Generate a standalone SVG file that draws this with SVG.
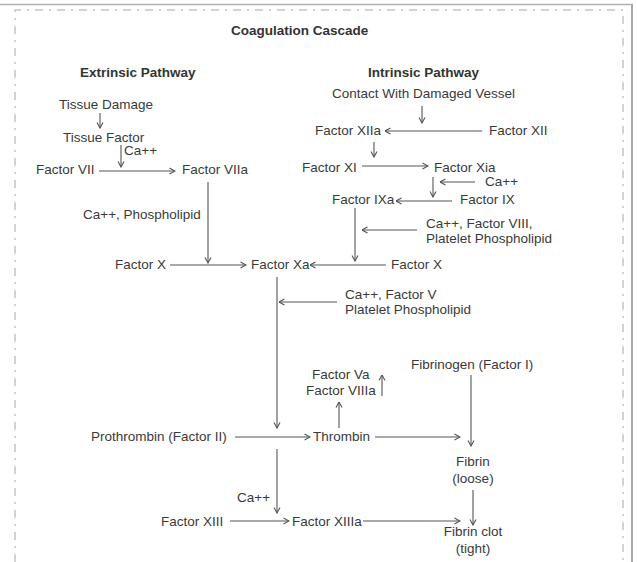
<svg xmlns="http://www.w3.org/2000/svg" width="637" height="562" viewBox="0 0 637 562">
<style>
text{font-family:"Liberation Sans",Arial,sans-serif;font-size:13.5px;fill:#3a3a3a}
.h{font-weight:bold;fill:#333}
.c{text-anchor:middle}
.ln{stroke:#555;stroke-width:1.1;fill:none;marker-end:url(#ah)}
</style>
<defs>
<marker id="ah" viewBox="0 0 8 8" refX="7.5" refY="4" markerWidth="8" markerHeight="8" markerUnits="userSpaceOnUse" orient="auto">
<path d="M2,1 L7.5,4 L2,7" fill="none" stroke="#555" stroke-width="1.1"/>
</marker>
</defs>
<rect width="637" height="562" fill="#fff"/>
<g id="frame">
<line x1="0" y1="4.5" x2="633" y2="4.5" stroke="#b0b0b0" stroke-width="1.5"/>
<line x1="632" y1="4" x2="632" y2="562" stroke="#a8a8a8" stroke-width="2"/>
<path d="M15,562 L15,10 L623,10 L623,562" fill="none" stroke="#c4c4c4" stroke-width="1.5" stroke-dasharray="8 6 2 6"/>
</g>
<g id="titles">
<text class="h" x="231" y="35">Coagulation Cascade</text>
<text class="h" x="80" y="77">Extrinsic Pathway</text>
<text class="h" x="368" y="77">Intrinsic Pathway</text>
</g>
<g id="n-tissue-damage"><text x="59" y="109">Tissue Damage</text></g>
<g id="n-tissue-factor"><text x="63" y="142">Tissue Factor</text></g>
<g id="l-ca1"><text x="124" y="155">Ca++</text></g>
<g id="n-f7"><text x="36" y="174">Factor VII</text></g>
<g id="n-f7a"><text x="182" y="174">Factor VIIa</text></g>
<g id="l-caphos"><text x="83" y="219">Ca++, Phospholipid</text></g>
<g id="n-f10-left"><text x="115" y="269">Factor X</text></g>
<g id="n-f10a"><text x="251" y="269">Factor Xa</text></g>
<g id="n-contact"><text x="332" y="98">Contact With Damaged Vessel</text></g>
<g id="n-f12a"><text x="315" y="135">Factor XIIa</text></g>
<g id="n-f12"><text x="489" y="135">Factor XII</text></g>
<g id="n-f11"><text x="302" y="172">Factor XI</text></g>
<g id="n-f11a"><text x="434" y="172">Factor Xia</text></g>
<g id="l-ca2"><text x="485" y="186">Ca++</text></g>
<g id="n-f9a"><text x="332" y="204">Factor IXa</text></g>
<g id="n-f9"><text x="460" y="204">Factor IX</text></g>
<g id="l-f8"><text x="426" y="228">Ca++, Factor VIII,</text><text x="426" y="243">Platelet Phospholipid</text></g>
<g id="n-f10-right"><text x="391" y="269">Factor X</text></g>
<g id="l-f5"><text x="345" y="299">Ca++, Factor V</text><text x="345" y="314">Platelet Phospholipid</text></g>
<g id="n-fibrinogen"><text x="411" y="369">Fibrinogen (Factor I)</text></g>
<g id="n-f5a-f8a"><text x="312" y="379">Factor Va</text><text x="306" y="395">Factor VIIIa</text></g>
<g id="n-prothrombin"><text x="91" y="441">Prothrombin (Factor II)</text></g>
<g id="n-thrombin"><text x="313" y="441">Thrombin</text></g>
<g id="n-fibrin"><text class="c" x="473" y="466">Fibrin</text><text class="c" x="473" y="483">(loose)</text></g>
<g id="l-ca3"><text x="237" y="502">Ca++</text></g>
<g id="n-f13"><text x="161" y="526">Factor XIII</text></g>
<g id="n-f13a"><text x="292" y="526">Factor XIIIa</text></g>
<g id="n-clot"><text class="c" x="473" y="536">Fibrin clot</text><text class="c" x="473" y="553">(tight)</text></g>
<g id="connectors">
<line class="ln" x1="100" y1="113" x2="100" y2="128"/>
<line class="ln" x1="121" y1="145" x2="121" y2="167"/>
<line class="ln" x1="99" y1="171" x2="175" y2="171"/>
<line class="ln" x1="208" y1="182" x2="208" y2="263"/>
<line class="ln" x1="170" y1="265" x2="246" y2="265"/>
<line class="ln" x1="422" y1="106" x2="422" y2="123"/>
<line class="ln" x1="482" y1="131" x2="385" y2="131"/>
<line class="ln" x1="374" y1="142" x2="374" y2="157"/>
<line class="ln" x1="362" y1="166" x2="428" y2="166"/>
<line class="ln" x1="433" y1="177" x2="433" y2="197"/>
<line class="ln" x1="475" y1="182" x2="440" y2="182"/>
<line class="ln" x1="452" y1="201" x2="396" y2="201"/>
<line class="ln" x1="355" y1="208" x2="355" y2="261"/>
<line class="ln" x1="417" y1="230" x2="362" y2="230"/>
<line class="ln" x1="386" y1="265" x2="310" y2="265"/>
<line class="ln" x1="277" y1="277" x2="277" y2="428"/>
<line class="ln" x1="337" y1="302" x2="279" y2="302"/>
<line class="ln" x1="235" y1="437" x2="310" y2="437"/>
<line class="ln" x1="339" y1="428" x2="339" y2="402"/>
<line class="ln" x1="382" y1="396" x2="382" y2="375"/>
<line class="ln" x1="375" y1="437" x2="460" y2="437"/>
<line class="ln" x1="471" y1="375" x2="471" y2="446"/>
<line class="ln" x1="277" y1="449" x2="277" y2="513"/>
<line class="ln" x1="230" y1="521" x2="289" y2="521"/>
<line class="ln" x1="363" y1="521" x2="460" y2="521"/>
<line class="ln" x1="473" y1="490" x2="473" y2="525"/>
</g>
</svg>
